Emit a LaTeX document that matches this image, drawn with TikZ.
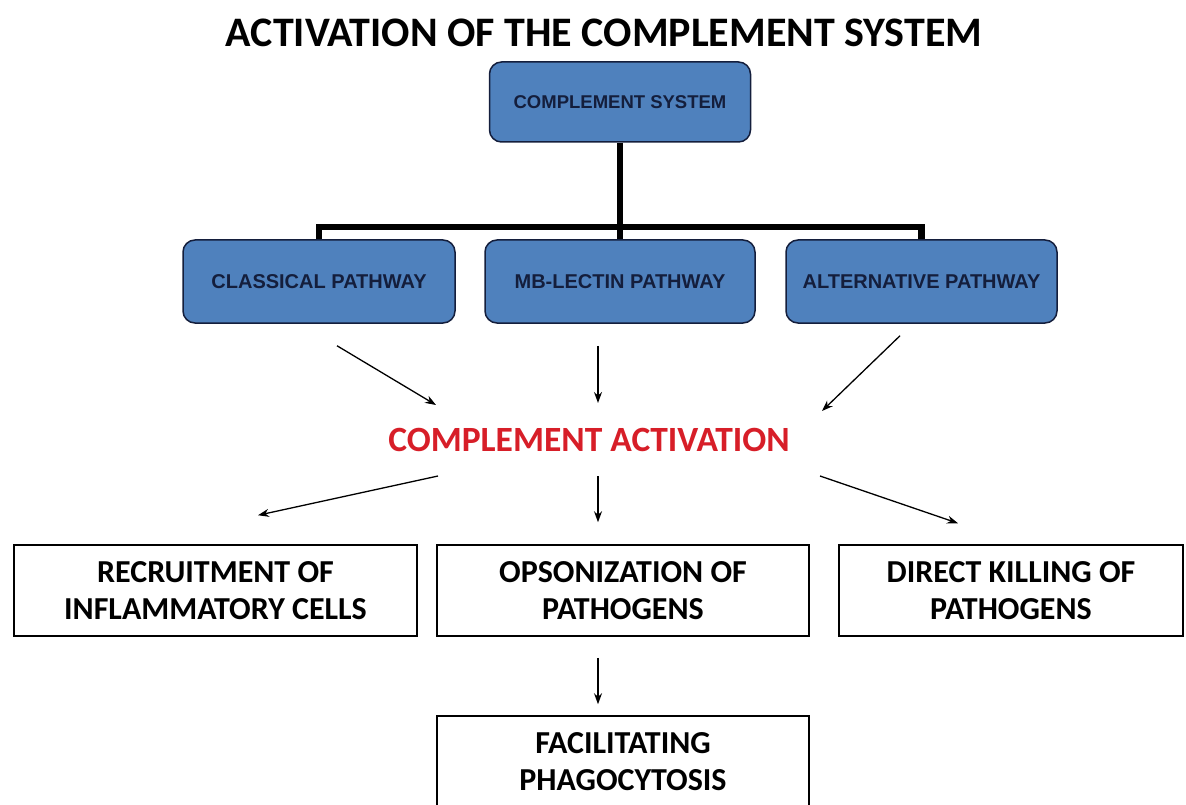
\documentclass[tikz,border=0pt]{standalone}
\usepackage{fontspec}
\setmainfont{Carlito}
\newfontfamily\boxfont{Liberation Sans}
\definecolor{pathblue}{RGB}{79,129,189}
\definecolor{pathnavy}{RGB}{20,30,60}
\definecolor{actred}{RGB}{215,30,40}
\usepackage{tikz}
\usetikzlibrary{positioning, arrows.meta}

\begin{document}
\begin{tikzpicture}[x=1pt, y=-1pt]
    \tikzstyle{pathbox} = [rectangle, draw=pathnavy, fill=pathblue, rounded corners=12pt,
        line width=1.5pt, text=pathnavy, font=\boxfont\bfseries\fontsize{20}{22}\selectfont,
        minimum width=272pt, minimum height=83pt, inner sep=0pt]
    \tikzstyle{effect} = [rectangle, draw, line width=1.5pt, align=center,
        font=\bfseries\fontsize{32}{37}\selectfont, minimum height=91pt, inner sep=0pt]
    \tikzstyle{tree} = [line width=6.5pt]
    \tikzstyle{arrow} = [line width=1.3pt, -{Stealth[length=11pt, width=8pt]}]

    \useasboundingbox (0,0) rectangle (1186,805);

    \node [font=\bfseries\fontsize{42}{44}\selectfont] (title) at (604,33) {ACTIVATION OF THE COMPLEMENT SYSTEM};
    \node [pathbox, minimum width=261pt, minimum height=80pt, font=\boxfont\bfseries\fontsize{18.5}{20}\selectfont] (sys) at (620,102) {COMPLEMENT SYSTEM};
    \node [pathbox] (classical) at (319,281.5) {CLASSICAL PATHWAY};
    \node [pathbox, minimum width=270pt] (lectin) at (620,281.5) {MB-LECTIN PATHWAY};
    \node [pathbox, minimum width=271pt] (alt) at (921.5,281.5) {ALTERNATIVE PATHWAY};

    \node [text=actred, font=\bfseries\fontsize{35.5}{38}\selectfont] (act) at (589,440) {COMPLEMENT ACTIVATION};

    \node [effect, minimum width=403pt] (recruit) at (215.5,590.5) {RECRUITMENT OF\\INFLAMMATORY CELLS};
    \node [effect, minimum width=372pt] (opson) at (623,590.5) {OPSONIZATION OF\\PATHOGENS};
    \node [effect, minimum width=344pt] (kill) at (1011,590.5) {DIRECT KILLING OF\\PATHOGENS};
    \node [effect, minimum width=372pt, minimum height=92pt] (phago) at (623,762) {FACILITATING\\PHAGOCYTOSIS};

    % tree from the system to the three pathways
    \draw [tree] (sys.south) -- (lectin.north);
    \draw [tree] (classical.north) -- ++(0,-12) -| (alt.north);

    % pathways into activation
    \draw [arrow] ([shift={(18,22)}]classical.south) -- ([shift={(-153,-35)}]act.center);
    \draw [arrow] ([shift={(-22,22)}]lectin.south) -- ([shift={(9,-37)}]act.center);
    \draw [arrow] ([shift={(-21.5,12)}]alt.south) -- ([shift={(233,-29)}]act.center);

    % activation into its effects
    \draw [arrow] ([shift={(-151,36)}]act.center) -- ([shift={(42.5,-29)}]recruit.north);
    \draw [arrow] ([shift={(9,36)}]act.center) -- ([shift={(-25,-22)}]opson.north);
    \draw [arrow] ([shift={(231,36)}]act.center) -- ([shift={(-53,-21)}]kill.north);
    \draw [arrow] ([shift={(-25,21)}]opson.south) -- ([shift={(-25,-11)}]phago.north);
\end{tikzpicture}
\end{document}
